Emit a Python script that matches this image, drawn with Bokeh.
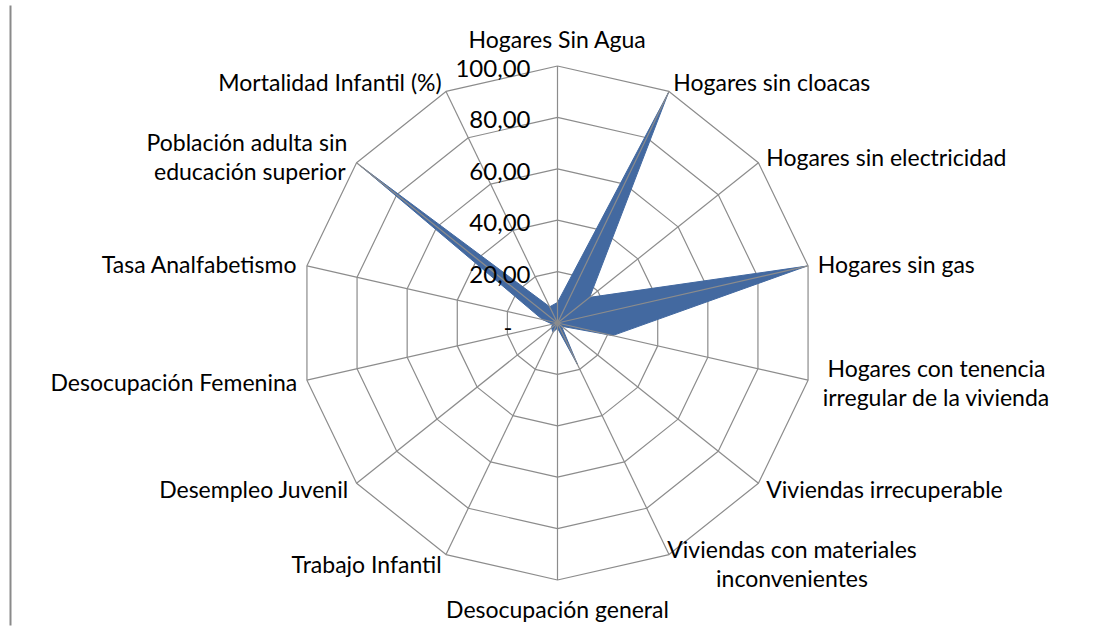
import numpy as np
from bokeh.plotting import figure
from bokeh.models import Range1d
from bokeh.core.properties import value
from bokeh.embed import file_html
from bokeh.resources import INLINE

# ---- data ----
categories = [
    "Hogares Sin Agua",
    "Hogares sin cloacas",
    "Hogares sin electricidad",
    "Hogares sin gas",
    "Hogares con tenencia\nirregular de la vivienda",
    "Viviendas irrecuperable",
    "Viviendas con materiales\ninconvenientes",
    "Desocupación general",
    "Trabajo Infantil",
    "Desempleo Juvenil",
    "Desocupación Femenina",
    "Tasa Analfabetismo",
    "Población adulta  sin\neducación superior",
    "Mortalidad Infantil (%)",
]
values = [8, 99.5, 16, 99.5, 22, 2, 18, 2, 4, 3, 2, 6, 98, 7]
tick_values = [0, 20, 40, 60, 80, 100]
tick_labels = ["-", "20,00", "40,00", "60,00", "80,00", "100,00"]

# ---- layout ----
W, H = 1094, 629
CX, CY = 557, 322.5          # centre in figure pixels (from top-left)
R = 257.0                    # pixels for value 100
FONT = "Lato"
FS = 23
TFS = 24
GRID = "#8c8c8c"
FILL = "#4369a0"

p = figure(width=W, height=H, output_backend="svg", toolbar_location=None,
           x_range=Range1d(-CX, W - CX), y_range=Range1d(CY - H, CY),
           min_border=0)
p.axis.visible = False
p.grid.visible = False
p.outline_line_color = None
p.background_fill_color = "white"
p.border_fill_color = "white"

n = len(categories)
theta = np.arange(n) * 2 * np.pi / n
s, c = np.sin(theta), np.cos(theta)
scale = R / max(tick_values)

# rings
for tv in tick_values[1:]:
    rr = tv * scale
    p.line(list(rr * s) + [rr * s[0]], list(rr * c) + [rr * c[0]],
           line_color=GRID, line_width=1.2)

# filled series
vr = np.array(values) * scale
p.patch(list(vr * s), list(vr * c), fill_color=FILL, line_color=FILL, line_width=1)

# spokes
p.segment(x0=[0] * n, y0=[0] * n, x1=list(R * s), y1=list(R * c),
          line_color=GRID, line_width=1.2)

# left border line
p.segment(x0=[-547], y0=[CY - 5], x1=[-547], y1=[CY - 625],
          line_color="#8a8a8a", line_width=2)

# tick labels
for tv, tl in zip(tick_values, tick_labels):
    if tv == 0:
        p.text(x=[-45], y=[-4], text=[tl], text_align="right", text_baseline="middle",
               text_font=value(FONT), text_font_size=f"{TFS}px", text_color="#000000")
    else:
        p.text(x=[-27], y=[tv * scale - 2.5], text=[tl], text_align="right",
               text_baseline="middle", text_font=value(FONT),
               text_font_size=f"{TFS}px", text_color="#000000")

# category labels
off = 10
for i, lab in enumerate(categories):
    vx, vy = R * s[i], R * c[i]
    lines = [" ".join(l.split()) for l in lab.split("\n")]
    if abs(s[i]) < 0.05:
        if c[i] > 0:
            p.text(x=[vx], y=[vy + 13], text=[lab], text_align="center", text_baseline="bottom",
                   text_font=value(FONT), text_font_size=f"{FS}px", text_color="#000000")
        else:
            p.text(x=[vx], y=[vy - 15], text=[lab], text_align="center", text_baseline="top",
                   text_font=value(FONT), text_font_size=f"{FS}px", text_color="#000000")
        continue
    ax, ay = vx + off * s[i], vy + off * c[i]
    if len(lines) > 1:
        est = max(len(l) for l in lines) * FS * 0.43
        x = ax + est / 2 if s[i] > 0 else ax - est / 2
        p.text(x=[x], y=[ay], text=[lab], text_align="center", text_baseline="middle",
               text_font=value(FONT), text_font_size=f"{FS}px", text_color="#000000",
               text_line_height=1.05)
    else:
        p.text(x=[ax], y=[ay], text=[lab], text_align="left" if s[i] > 0 else "right",
               text_baseline="middle", text_font=value(FONT),
               text_font_size=f"{FS}px", text_color="#000000")

open("out.html", "w").write(file_html(p, INLINE))
